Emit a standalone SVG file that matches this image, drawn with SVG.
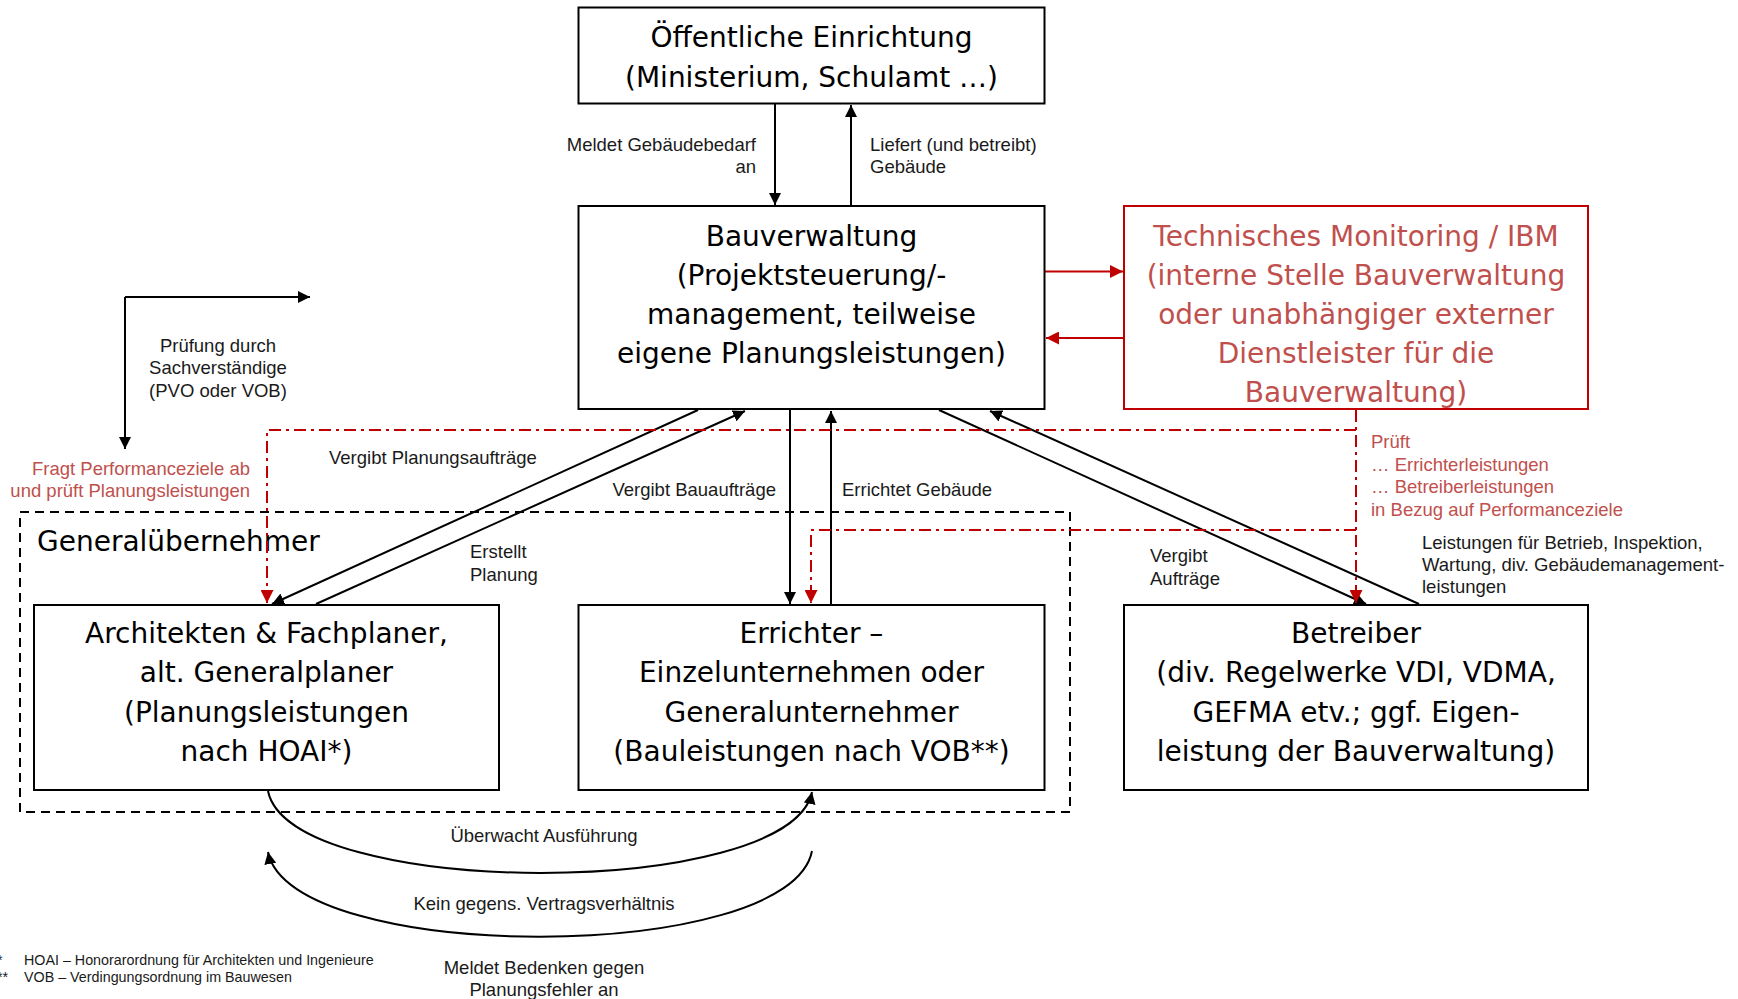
<svg xmlns="http://www.w3.org/2000/svg" width="1738" height="999" viewBox="0 0 1738 999">
<style>
.box{fill:#fff;stroke:#000;stroke-width:2}
.rbox{fill:#fff;stroke:#C00000;stroke-width:2}
.big{font-family:"DejaVu Sans",Verdana,sans-serif;font-size:28px;fill:#000;text-anchor:middle}
.bigr{font-family:"DejaVu Sans",Verdana,sans-serif;font-size:28px;fill:#C0504D;text-anchor:middle}
.lbl{font-family:"Liberation Sans",Arial,sans-serif;font-size:18.5px;fill:#1a1a1a}
.lblr{font-family:"Liberation Sans",Arial,sans-serif;font-size:18.5px;fill:#C0504D}
.fn{font-family:"Liberation Sans",Arial,sans-serif;font-size:14.3px;fill:#1a1a1a}
.c{fill:none;stroke:#000;stroke-width:2}
.cr{fill:none;stroke:#C00000;stroke-width:2}
.dd{fill:none;stroke:#C00000;stroke-width:2;stroke-dasharray:12 5 3 5}
.dash{fill:none;stroke:#000;stroke-width:2;stroke-dasharray:9 6}
</style>
<defs>
<marker id="ah" viewBox="0 0 12 12" refX="12" refY="6" markerWidth="12" markerHeight="12" markerUnits="userSpaceOnUse" orient="auto"><path d="M0,0 L12,6 L0,12 z" fill="#000"/></marker>
<marker id="ahr" viewBox="0 0 12 12" refX="12" refY="6" markerWidth="13" markerHeight="13" markerUnits="userSpaceOnUse" orient="auto"><path d="M0,0 L12,6 L0,12 z" fill="#C00000"/></marker>
</defs>
<rect width="1738" height="999" fill="#fff"/>

<g id="generaluebernehmer">
<rect class="dash" x="20" y="512" width="1050" height="300"/>
<text class="big" x="37" y="551" style="text-anchor:start">Generalübernehmer</text>
</g>

<g id="connectors">
<path class="c" d="M775,104 L775,205" marker-end="url(#ah)"/>
<path class="c" d="M851,205 L851,105" marker-end="url(#ah)"/>
<path class="cr" d="M1045,271.5 L1123,271.5" marker-end="url(#ahr)"/>
<path class="cr" d="M1124,338 L1046,338" marker-end="url(#ahr)"/>
<path class="c" d="M125,297 L125,449" marker-end="url(#ah)"/>
<path class="c" d="M125,297 L310,297" marker-end="url(#ah)"/>
<path class="c" d="M698,410 L272,604" marker-end="url(#ah)"/>
<path class="c" d="M316,604 L745,411" marker-end="url(#ah)"/>
<path class="c" d="M790,410 L790,604" marker-end="url(#ah)"/>
<path class="c" d="M831,604 L831,411" marker-end="url(#ah)"/>
<path class="c" d="M939,410 L1366,604" marker-end="url(#ah)"/>
<path class="c" d="M1419,604 L990,411" marker-end="url(#ah)"/>
<path class="dd" d="M1356,410 L1356,603" marker-end="url(#ahr)"/>
<path class="dd" d="M1356,430 L267,430 L267,603" marker-end="url(#ahr)"/>
<path class="dd" d="M1356,530 L811,530 L811,603" marker-end="url(#ahr)"/>
<path class="c" d="M268,791 C290,900 790,900 812,792" marker-end="url(#ah)"/>
<path class="c" d="M812,851 C790,965 290,965 268,852" marker-end="url(#ah)"/>
</g>

<g id="oeffentliche-einrichtung">
<rect class="box" x="578.5" y="7.5" width="466" height="96"/>
<text class="big" x="811.5" y="47">Öffentliche Einrichtung</text>
<text class="big" x="811.5" y="87">(Ministerium, Schulamt …)</text>
</g>

<g id="bauverwaltung">
<rect class="box" x="578.5" y="206" width="466" height="203"/>
<text class="big" x="811.5" y="246">Bauverwaltung</text>
<text class="big" x="811.5" y="285">(Projektsteuerung/-</text>
<text class="big" x="811.5" y="324">management, teilweise</text>
<text class="big" x="811.5" y="363">eigene Planungsleistungen)</text>
</g>

<g id="technisches-monitoring">
<rect class="rbox" x="1124" y="206" width="464" height="203"/>
<text class="bigr" x="1356" y="246">Technisches Monitoring / IBM</text>
<text class="bigr" x="1356" y="285">(interne Stelle Bauverwaltung</text>
<text class="bigr" x="1356" y="324">oder unabhängiger externer</text>
<text class="bigr" x="1356" y="363">Dienstleister für die</text>
<text class="bigr" x="1356" y="402">Bauverwaltung)</text>
</g>

<g id="architekten">
<rect class="box" x="34" y="605" width="465" height="185"/>
<text class="big" x="266.5" y="643">Architekten &amp; Fachplaner,</text>
<text class="big" x="266.5" y="682">alt. Generalplaner</text>
<text class="big" x="266.5" y="722">(Planungsleistungen</text>
<text class="big" x="266.5" y="761">nach HOAI*)</text>
</g>

<g id="errichter">
<rect class="box" x="578.5" y="605" width="466" height="185"/>
<text class="big" x="811.5" y="643">Errichter –</text>
<text class="big" x="811.5" y="682">Einzelunternehmen oder</text>
<text class="big" x="811.5" y="722">Generalunternehmer</text>
<text class="big" x="811.5" y="761">(Bauleistungen nach VOB**)</text>
</g>

<g id="betreiber">
<rect class="box" x="1124" y="605" width="464" height="185"/>
<text class="big" x="1356" y="643">Betreiber</text>
<text class="big" x="1356" y="682">(div. Regelwerke VDI, VDMA,</text>
<text class="big" x="1356" y="722">GEFMA etv.; ggf. Eigen-</text>
<text class="big" x="1356" y="761">leistung der Bauverwaltung)</text>
</g>

<g id="labels">
<text class="lbl" x="756" y="151" text-anchor="end">Meldet Gebäudebedarf</text>
<text class="lbl" x="756" y="173" text-anchor="end">an</text>
<text class="lbl" x="870" y="151">Liefert (und betreibt)</text>
<text class="lbl" x="870" y="173">Gebäude</text>
<text class="lbl" x="218" y="352" text-anchor="middle">Prüfung durch</text>
<text class="lbl" x="218" y="374" text-anchor="middle">Sachverständige</text>
<text class="lbl" x="218" y="397" text-anchor="middle">(PVO oder VOB)</text>
<text class="lblr" x="250" y="475" text-anchor="end">Fragt Performanceziele ab</text>
<text class="lblr" x="250" y="497" text-anchor="end">und prüft Planungsleistungen</text>
<text class="lbl" x="329" y="464">Vergibt Planungsaufträge</text>
<text class="lbl" x="776" y="496" text-anchor="end">Vergibt Bauaufträge</text>
<text class="lbl" x="842" y="496">Errichtet Gebäude</text>
<text class="lbl" x="470" y="558">Erstellt</text>
<text class="lbl" x="470" y="581">Planung</text>
<text class="lbl" x="1150" y="562">Vergibt</text>
<text class="lbl" x="1150" y="585">Aufträge</text>
<text class="lblr" x="1371" y="448">Prüft</text>
<text class="lblr" x="1371" y="471">… Errichterleistungen</text>
<text class="lblr" x="1371" y="493">… Betreiberleistungen</text>
<text class="lblr" x="1371" y="516">in Bezug auf Performanceziele</text>
<text class="lbl" x="1422" y="549">Leistungen für Betrieb, Inspektion,</text>
<text class="lbl" x="1422" y="571">Wartung, div. Gebäudemanagement-</text>
<text class="lbl" x="1422" y="593">leistungen</text>
<text class="lbl" x="544" y="842" text-anchor="middle">Überwacht Ausführung</text>
<text class="lbl" x="544" y="910" text-anchor="middle">Kein gegens. Vertragsverhältnis</text>
<text class="lbl" x="544" y="974" text-anchor="middle">Meldet Bedenken gegen</text>
<text class="lbl" x="544" y="996" text-anchor="middle">Planungsfehler an</text>
</g>

<g id="footnotes">
<text class="fn" x="-3" y="965">*</text>
<text class="fn" x="24" y="965">HOAI – Honorarordnung für Architekten und Ingenieure</text>
<text class="fn" x="-3" y="982">**</text>
<text class="fn" x="24" y="982">VOB – Verdingungsordnung im Bauwesen</text>
</g>
</svg>
